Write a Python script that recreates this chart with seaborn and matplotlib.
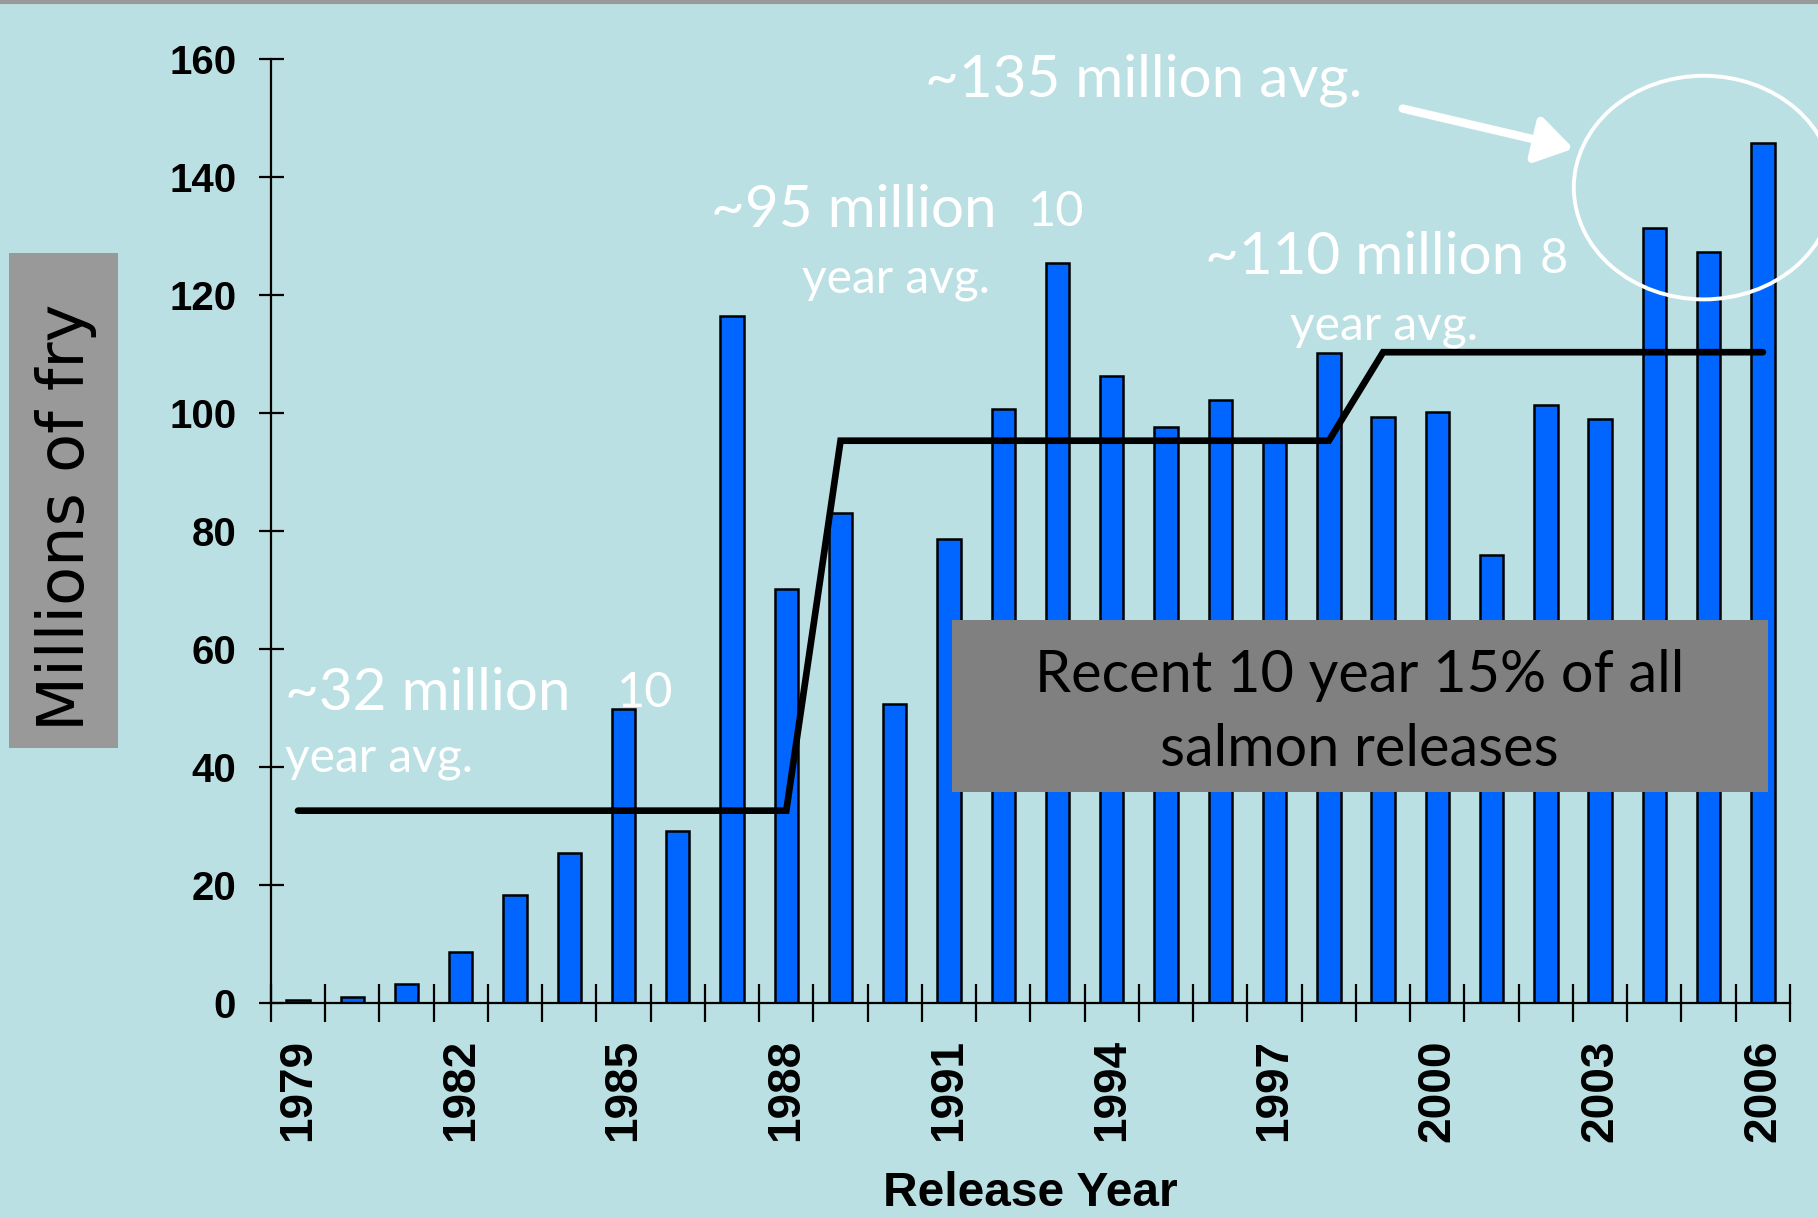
import matplotlib
matplotlib.use("Agg")
import matplotlib.pyplot as plt
import seaborn as sns
import pandas as pd
from matplotlib.patches import Ellipse, Rectangle, FancyArrowPatch

years = [str(y) for y in range(1979, 2007)]
releases = [0.5, 1.0, 3.3, 8.6, 18.3, 25.4, 49.9, 29.1, 116.4, 70.2,
            83.1, 50.7, 78.6, 100.6, 125.4, 106.3, 97.7, 102.2, 95.0, 110.1,
            99.3, 100.2, 75.9, 101.4, 98.9, 131.3, 127.2, 145.8]
period_avg = [32.6] * 10 + [95.3] * 10 + [110.3] * 8
tick_years = ["1979", "1982", "1985", "1988", "1991", "1994", "1997", "2000", "2003", "2006"]
y_ticks = [0, 20, 40, 60, 80, 100, 120, 140, 160]

BG = "#BBE0E3"
BAR = "#0066FF"

sns.set_theme(style="white")
plt.rcParams['font.family'] = ['Liberation Sans', 'DejaVu Sans']

fig = plt.figure(figsize=(18.18, 12.18), dpi=100, facecolor=BG)
ax = fig.add_axes([0.149, 0.1765, 0.8356, 0.7751])
ax.set_facecolor(BG)

df = pd.DataFrame({"year": years, "releases": releases})
sns.barplot(data=df, x="year", y="releases", color=BAR, saturation=1,
            width=0.43, edgecolor="black", linewidth=1.8, ax=ax, zorder=2)
ax.plot(range(len(years)), period_avg, color="black", lw=4.8, zorder=3,
        solid_joinstyle="miter")

ax.set_xlim(-0.5, len(years) - 0.5)
ax.set_ylim(0, 160)

for s in ["top", "right"]:
    ax.spines[s].set_visible(False)
for s in ["left", "bottom"]:
    ax.spines[s].set_color("black")
    ax.spines[s].set_linewidth(1.6)

ax.set_yticks(y_ticks)
ax.set_yticklabels([str(v) for v in y_ticks], fontweight="bold", fontsize=29, color="black")
ax.tick_params(axis="y", left=True, direction="inout", length=18, width=1.6, color="black", pad=16)

idx = [years.index(t) for t in tick_years]
ax.set_xticks(idx)
ax.set_xticklabels(tick_years, rotation=90, fontweight="bold", fontsize=33, color="black")
ax.tick_params(axis="x", which="major", bottom=True, length=0, pad=26)
ax.set_xticks([i - 0.5 for i in range(len(years) + 1)], minor=True)
ax.tick_params(axis="x", which="minor", bottom=True, direction="inout", length=28, width=1.6, color="black")

ax.set_xlabel("Release Year", fontweight="bold", fontsize=34.5, labelpad=21, color="black")
ax.set_ylabel("")

# y label in grey box
fig.add_artist(Rectangle((0.005, 0.386), 0.060, 0.406, transform=fig.transFigure,
                         fc="#999999", ec="none"))
fig.text(0.0365, 0.5755, "Millions of fry", rotation=90, fontsize=46,
         family="DejaVu Sans", color="black", ha="center", va="center")

lato = ["Lato", "DejaVu Sans"]
W = "white"
ax.text(-0.24, 49.7, "~32 million", color=W, fontsize=42, family=lato, zorder=5)
ax.text(5.87, 50.1, "10", color=W, fontsize=35, family=lato, zorder=5)
ax.text(-0.24, 39.3, "year avg.", color=W, fontsize=34.5, family=lato, zorder=5)

ax.text(7.62, 131.5, "~95 million", color=W, fontsize=42, family=lato, zorder=5)
ax.text(13.45, 131.7, "10", color=W, fontsize=35, family=lato, zorder=5)
ax.text(9.29, 120.5, "year avg.", color=W, fontsize=34.5, family=lato, zorder=5)

ax.text(16.72, 123.6, "~110 million", color=W, fontsize=42, family=lato, zorder=5)
ax.text(22.88, 123.8, "8", color=W, fontsize=35, family=lato, zorder=5)
ax.text(18.28, 112.4, "year avg.", color=W, fontsize=34.5, family=lato, zorder=5)

ax.text(11.55, 153.7, "~135 million avg.", color=W, fontsize=42, family=lato,
        zorder=5, clip_on=False)

arrow = FancyArrowPatch((20.31, 151.7), (23.56, 144.7), arrowstyle="-|>,head_length=11,head_width=7",
                        color=W, lw=6, mutation_scale=2, zorder=5, clip_on=False)
ax.add_patch(arrow)

ell = Ellipse((25.91, 138.2), 4.79, 37.9, fill=False, ec=W, lw=2.8, zorder=5, clip_on=False)
ax.add_patch(ell)

rect = Rectangle((12.06, 35.8), 15.03, 29.1, fc="#808080", ec="none", zorder=6)
ax.add_patch(rect)
ax.text(19.57, 49.2, "Recent 10 year 15% of all\nsalmon releases", color="black",
        fontsize=41.5, family=lato, ha="center", va="center", linespacing=1.5, zorder=7)

# top border line
fig.add_artist(plt.Line2D([0, 1], [0.9985, 0.9985], color="#999999", lw=3, transform=fig.transFigure))

fig.savefig("out.png", dpi=100, facecolor=BG)
